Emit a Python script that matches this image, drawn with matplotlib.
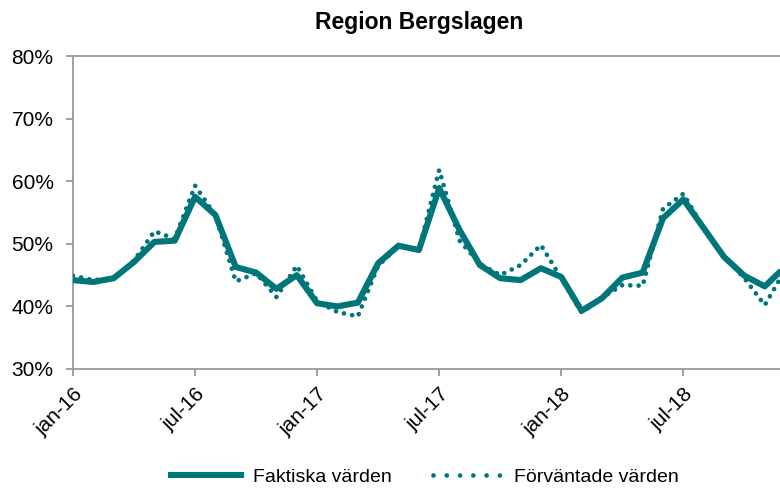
import matplotlib
matplotlib.use("Agg")
import matplotlib.pyplot as plt
from matplotlib.lines import Line2D

plt.rcParams['font.family'] = ['Liberation Sans', 'DejaVu Sans']

months = list(range(36))
actual = [44.2, 43.9, 44.5, 47.1, 50.3, 50.5, 57.5, 54.6, 46.3, 45.4, 42.8, 45.0,
          40.5, 40.0, 40.6, 46.9, 49.7, 49.0, 58.9, 52.2, 46.6, 44.5, 44.2, 46.1,
          44.7, 39.3, 41.3, 44.6, 45.4, 54.1, 57.1, 52.5, 47.9, 44.9, 43.2, 46.3]
expected = [44.9, 44.2, 44.5, 47.3, 52.0, 50.8, 59.3, 54.5, 44.0, 45.3, 41.5, 46.5,
            40.8, 39.1, 38.4, 46.5, 49.6, 49.0, 61.8, 50.5, 46.8, 45.0, 46.6, 49.8,
            44.5, 39.0, 41.4, 43.4, 43.3, 55.6, 58.0, 52.5, 48.0, 44.5, 40.2, 45.8]
tick_pos = [0, 6, 12, 18, 24, 30]
tick_labels = ['jan-16', 'jul-16', 'jan-17', 'jul-17', 'jan-18', 'jul-18']
y_ticks = [30, 40, 50, 60, 70, 80]

color = '#00767A'
grey = '#999999'

fig = plt.figure(figsize=(7.8, 4.92), dpi=100)
ax = fig.add_axes([73/780, 1 - 369/492, 1 - 73/780, (369 - 56)/492])

ax.plot(months, actual, color=color, lw=4.4, solid_joinstyle='round',
        solid_capstyle='butt', zorder=3, label='Faktiska värden')
ax.plot(months, expected, color=color, lw=3.4, linestyle=(0, (0.01, 1.75)),
        dash_capstyle='round', zorder=4, label='Förväntade värden')

ax.set_xlim(0, 34.75)
ax.set_ylim(30, 80)
ax.set_yticks(y_ticks)
ax.set_yticklabels([f'{v}%' for v in y_ticks])
ax.set_xticks(tick_pos)
ax.set_xticklabels(tick_labels, rotation=45, ha='right', rotation_mode='anchor')

for s in ['left', 'bottom', 'top']:
    ax.spines[s].set_color(grey)
    ax.spines[s].set_linewidth(1.3)
ax.spines['right'].set_visible(False)
ax.tick_params(axis='both', colors=grey, length=5, width=1.3, labelcolor='black',
               labelsize=15)
ax.tick_params(axis='y', pad=9)
ax.tick_params(axis='x', pad=6)

fig.text(419/780, 1 - 22/492, 'Region Bergslagen', ha='center', va='center',
         fontsize=16.5, fontweight='bold')

handles = [Line2D([], [], color=color, lw=4.4),
           Line2D([], [], color=color, lw=3.4, linestyle=(0, (0.01, 2.8)),
                  dash_capstyle='round')]
fig.legend(handles, ['Faktiska värden', 'Förväntade värden'], loc='center',
           bbox_to_anchor=(0.545, 0.03), ncol=2, frameon=False, fontsize=14,
           handlelength=3.6, columnspacing=2.1, handletextpad=0.6)

fig.savefig('out.png', dpi=100)
